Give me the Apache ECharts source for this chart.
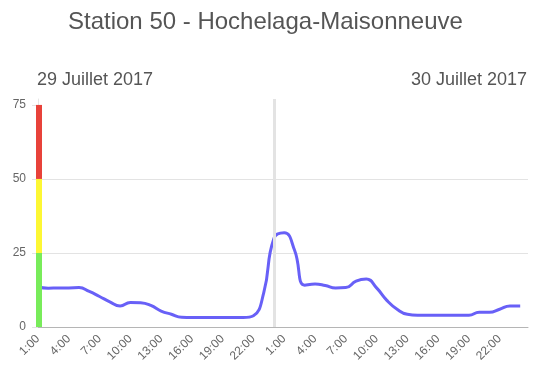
<!DOCTYPE html>
<html>
<head>
<meta charset="utf-8">
<script src="https://cdn.jsdelivr.net/npm/echarts@6/dist/echarts.min.js"></script>
<style>
html,body{margin:0;padding:0;background:#fff;}
#c{width:551px;height:373px;}
</style>
</head>
<body>
<div id="c"></div>
<script>
// Hour labels for 48 hourly points (29 and 30 July 2017)
const hours = [
  '1:00','2:00','3:00','4:00','5:00','6:00','7:00','8:00','9:00','10:00','11:00','12:00',
  '13:00','14:00','15:00','16:00','17:00','18:00','19:00','20:00','21:00','22:00','23:00','0:00',
  '1:00','2:00','3:00','4:00','5:00','6:00','7:00','8:00','9:00','10:00','11:00','12:00',
  '13:00','14:00','15:00','16:00','17:00','18:00','19:00','20:00','21:00','22:00','23:00','0:00'
];
const values = [
  13.5, 13.1, 13.2, 13.2, 13.3, 12.0, 10.3, 8.5, 7.1, 8.3, 8.2, 7.3,
  5.4, 4.3, 3.3, 3.2, 3.2, 3.2, 3.2, 3.2, 3.2, 3.8, 11.5, 30.0,
  31.8, 26.0, 14.1, 14.5, 14.0, 13.2, 13.3, 15.5, 16.2, 13.2, 9.0, 6.0,
  4.3, 4.0, 4.0, 4.0, 4.0, 4.0, 4.0, 5.0, 5.0, 6.0, 7.1, 7.1
];
const yTicks = [0, 25, 50, 75];
const xLabelIdx = [0, 3, 6, 9, 12, 15, 18, 21, 24, 27, 30, 33, 36, 39, 42, 45];
const bandLow = [0, 25, 50];
const bandHigh = [25, 50, 75];
const bandColors = ['#78ec5a', '#fdf734', '#e8423a'];
const dayBreakIndex = 23;
const titleText = 'Station 50 - Hochelaga-Maisonneuve';
const day1 = '29 Juillet 2017';
const day2 = '30 Juillet 2017';

const FONT = '"Liberation Sans", Arial, Helvetica, sans-serif';
const lineData = values.map((v, i) => [i, v]);
const bandData = bandLow.map((lo, i) => [0, lo, bandHigh[i]]);

const chart = echarts.init(document.getElementById('c'), null, {renderer: 'canvas'});
chart.setOption({
  animation: false,
  title: [
    {text: titleText, left: 68, top: 10, padding: 0,
     textStyle: {fontFamily: FONT, fontSize: 24, fontWeight: 'normal', color: '#555'}},
    {text: day1, left: 37, top: 71, padding: 0,
     textStyle: {fontFamily: FONT, fontSize: 18, fontWeight: 'normal', color: '#555'}},
    {text: day2, right: 24, top: 71, padding: 0,
     textStyle: {fontFamily: FONT, fontSize: 18, fontWeight: 'normal', color: '#555'}}
  ],
  grid: {left: 38, right: 23, top: 99, bottom: 46, containLabel: false},
  xAxis: {
    type: 'value', min: 0, max: 47.76, interval: 3,
    axisLine: {show: true, lineStyle: {color: '#b5b5b5', width: 1}},
    axisTick: {show: false},
    splitLine: {show: false},
    axisLabel: {
      customValues: xLabelIdx,
      rotate: 45, margin: 10,
      fontFamily: FONT, fontSize: 12, color: '#666',
      formatter: v => hours[Math.round(v)]
    }
  },
  yAxis: {
    type: 'value', min: 0, max: 77, interval: 25,
    axisLine: {show: true, lineStyle: {color: '#e6e6e6', width: 1}},
    axisTick: {show: true, length: 6, customValues: yTicks, lineStyle: {color: '#e3e3e3'}},
    splitLine: {show: true, showMaxLine: false, lineStyle: {color: '#e3e3e3', width: 1}},
    axisLabel: {customValues: yTicks, margin: 12, fontFamily: FONT, fontSize: 12, color: '#666'}
  },
  series: [
    {
      type: 'line',
      data: lineData,
      smooth: 0.5,
      showSymbol: false,
      lineStyle: {color: '#6860f7', width: 3},
      z: 3,
      markLine: {
        silent: true,
        symbol: 'none',
        label: {show: false},
        lineStyle: {color: '#e3e3e3', width: 3, type: 'solid'},
        data: [{xAxis: dayBreakIndex}],
        z: 4
      }
    },
    {
      type: 'custom',
      data: bandData,
      z: 5,
      clip: false,
      renderItem: function (params, api) {
        const top = api.coord([api.value(0), api.value(2)]);
        const bot = api.coord([api.value(0), api.value(1)]);
        return {
          type: 'rect',
          shape: {x: top[0] - 2, y: top[1], width: 6, height: bot[1] - top[1]},
          style: {fill: bandColors[params.dataIndex]}
        };
      }
    }
  ]
});
</script>
</body>
</html>
